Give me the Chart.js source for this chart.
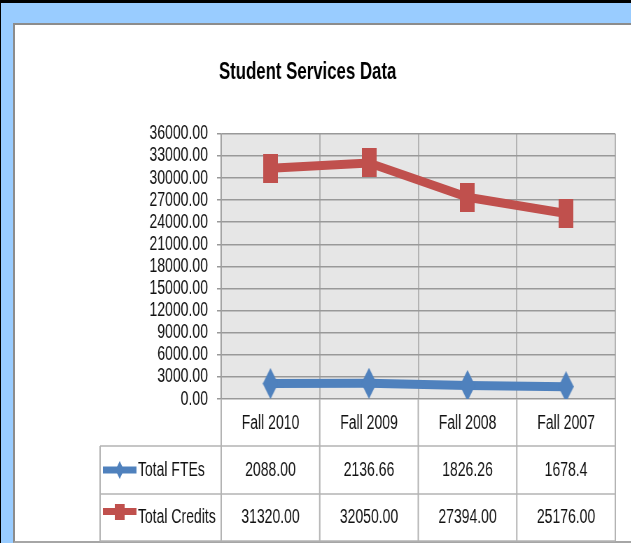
<!DOCTYPE html>
<html>
<head>
<meta charset="utf-8">
<title>Student Services Data</title>
<script src="https://cdn.jsdelivr.net/npm/chart.js@4"></script>
<style>
  html, body { margin: 0; padding: 0; overflow: hidden; }
  body { width: 631px; height: 543px; background: #99ccff; position: relative; }
  .topbar { position: absolute; left: 0; top: 0; width: 631px; height: 3px; background: #000; }
  .leftbar { position: absolute; left: 0; top: 0; width: 1px; height: 543px; background: #000; }
  .panel {
    position: absolute; left: 13px; top: 23px; width: 618px; height: 520px;
    box-sizing: border-box; background: #fff;
    border-top: 2px solid #8c8c8c; border-left: 2px solid #8c8c8c; border-bottom: 2px solid #a6a6a6;
  }
  #wrap { position: absolute; left: 0; top: 0; width: 631px; height: 543px; overflow: hidden; }
  /* the original picture is squeezed sideways, so the chart is drawn wide and scaled */
  #chart { transform: scaleX(0.7); transform-origin: 0 0; }
</style>
</head>
<body>
<div class="topbar"></div>
<div class="leftbar"></div>
<div class="panel"></div>
<div id="wrap"><canvas id="chart" width="902" height="543"></canvas></div>

<script>
const categories = ['Fall 2010', 'Fall 2009', 'Fall 2008', 'Fall 2007'];
const totalFtes = ['2088.00', '2136.66', '1826.26', '1678.4'];
const totalCredits = ['31320.00', '32050.00', '27394.00', '25176.00'];
const seriesNames = ['Total FTEs', 'Total Credits'];
const yMax = 36000;
const yStep = 3000;

const blue = '#4f81bd';
const red = '#c0504d';

Chart.defaults.font.family = "'Liberation Sans', Arial, sans-serif";
Chart.defaults.color = '#111';

// marker pictures (taller than wide, like in the original)
function makeShape(kind, w, h, color) {
  const c = document.createElement('canvas');
  c.width = w;
  c.height = h;
  const g = c.getContext('2d');
  g.fillStyle = color;
  if (kind === 'diamond') {
    g.beginPath();
    g.moveTo(w / 2, 0);
    g.lineTo(w, h / 2);
    g.lineTo(w / 2, h);
    g.lineTo(0, h / 2);
    g.closePath();
    g.fill();
  } else {
    g.fillRect(0, 0, w, h);
  }
  return c;
}

const diamondBig = makeShape('diamond', 22, 31, blue);
const squareBig = makeShape('rect', 21, 29, red);
const diamondSmall = makeShape('diamond', 12, 18, blue);
const squareSmall = makeShape('rect', 14, 16, red);

// grey plot background
const plotBackground = {
  id: 'plotBackground',
  beforeDraw(chart) {
    const { ctx, chartArea: a } = chart;
    ctx.save();
    ctx.fillStyle = '#e6e6e6';
    ctx.fillRect(a.left, a.top, a.right - a.left, a.bottom - a.top);
    ctx.restore();
  }
};

// data table under the plot
const dataTable = {
  id: 'dataTable',
  afterDraw(chart) {
    const { ctx, chartArea: a, scales: { x } } = chart;
    const colW = (a.right - a.left) / categories.length;
    const tableLeft = 143;
    const rowLines = [a.bottom, 446, 494, 541];

    ctx.save();
    ctx.strokeStyle = '#b3b3b3';

    // horizontal lines
    ctx.lineWidth = 1.5;
    for (let r = 1; r < rowLines.length; r++) {
      ctx.beginPath();
      ctx.moveTo(tableLeft, rowLines[r]);
      ctx.lineTo(a.right, rowLines[r]);
      ctx.stroke();
    }
    // vertical lines
    ctx.lineWidth = 2;
    for (let i = 0; i <= categories.length; i++) {
      const xx = a.left + i * colW;
      ctx.beginPath();
      ctx.moveTo(xx, a.bottom);
      ctx.lineTo(xx, rowLines[3]);
      ctx.stroke();
    }
    ctx.beginPath();
    ctx.moveTo(tableLeft, rowLines[1]);
    ctx.lineTo(tableLeft, rowLines[3]);
    ctx.stroke();

    // rows
    const rows = [
      { name: seriesNames[0], values: totalFtes, color: blue, mark: diamondSmall, dy: 0 },
      { name: seriesNames[1], values: totalCredits, color: red, mark: squareSmall, dy: -6 }
    ];
    ctx.font = "20px 'Liberation Sans', Arial, sans-serif";
    ctx.fillStyle = '#111';
    ctx.textBaseline = 'middle';
    rows.forEach((row, r) => {
      const yc = (rowLines[r + 1] + rowLines[r + 2]) / 2;
      const gy = yc + row.dy;
      ctx.strokeStyle = row.color;
      ctx.lineWidth = 7;
      ctx.beginPath();
      ctx.moveTo(147, gy);
      ctx.lineTo(195, gy);
      ctx.stroke();
      ctx.drawImage(row.mark, 171 - row.mark.width / 2, gy - row.mark.height / 2);

      ctx.textAlign = 'left';
      ctx.fillText(row.name, 197, yc);
      ctx.textAlign = 'center';
      row.values.forEach((v, i) => ctx.fillText(v, x.getPixelForValue(i), yc));
    });
    ctx.restore();
  }
};

new Chart(document.getElementById('chart'), {
  type: 'line',
  data: {
    labels: categories,
    datasets: [
      {
        label: seriesNames[0],
        data: totalFtes,
        borderColor: blue,
        backgroundColor: blue,
        borderWidth: 9,
        tension: 0,
        pointStyle: diamondBig,
        pointRadius: 10
      },
      {
        label: seriesNames[1],
        data: totalCredits,
        borderColor: red,
        backgroundColor: red,
        borderWidth: 9,
        tension: 0,
        pointStyle: squareBig,
        pointRadius: 10
      }
    ]
  },
  options: {
    responsive: false,
    animation: false,
    events: [],
    layout: { padding: { left: 0, right: 23, top: 0, bottom: 0 } },
    plugins: {
      legend: { display: false },
      tooltip: { enabled: false },
      title: {
        display: true,
        text: 'Student Services Data',
        color: '#000',
        font: { size: 24, weight: 'bold' },
        padding: { top: 58, bottom: 47 }
      }
    },
    scales: {
      x: {
        offset: true,
        grid: { offset: true, color: '#b3b3b3', lineWidth: 2, drawTicks: false },
        border: { display: false },
        ticks: { font: { size: 20 }, padding: 12, color: '#111' },
        afterFit(scale) { scale.height = 144; }
      },
      y: {
        min: 0,
        max: yMax,
        ticks: {
          stepSize: yStep,
          autoSkip: false,
          font: { size: 20 },
          padding: 13,
          color: '#111',
          callback: (v) => Number(v).toFixed(2)
        },
        grid: { color: '#999', lineWidth: 1.5, tickLength: 6 },
        border: { color: '#999', width: 1.5 },
        afterFit(scale) { scale.width = 316; }
      }
    }
  },
  plugins: [plotBackground, dataTable]
});
</script>
</body>
</html>
